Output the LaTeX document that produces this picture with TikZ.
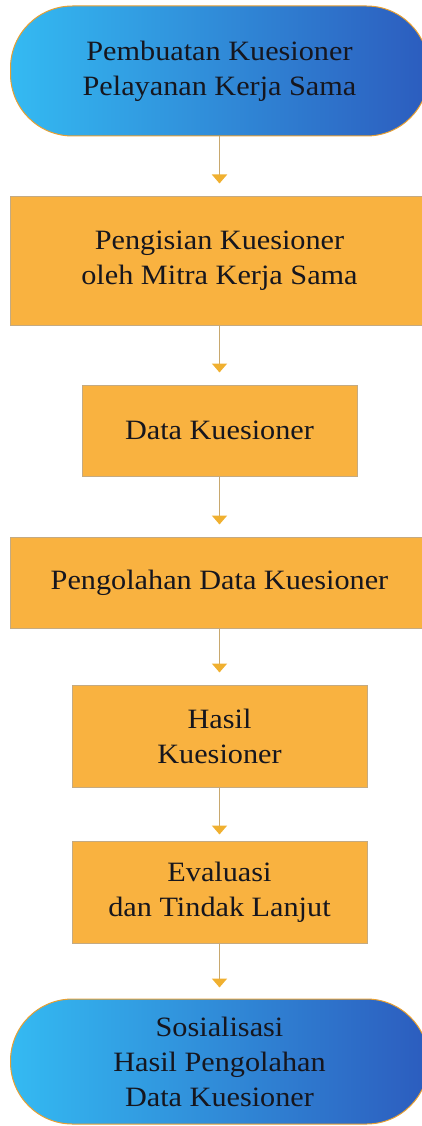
\documentclass[tikz,border=0pt]{standalone}
\usepackage{fontspec}
\setmainfont{Liberation Serif}[FakeStretch=1.08]
\usetikzlibrary{arrows.meta}
\definecolor{boxfill}{RGB}{249,178,64}
\definecolor{boxline}{RGB}{196,170,130}
\definecolor{termleft}{RGB}{52,186,242}
\definecolor{termright}{RGB}{44,92,190}
\definecolor{termline}{RGB}{232,160,50}
\definecolor{arrline}{RGB}{200,168,110}
\definecolor{arrhead}{RGB}{240,176,48}
\definecolor{txt}{RGB}{22,22,30}
\tikzset{
  x=1pt, y=1pt,
  base/.style={align=center, text=txt, font=\fontsize{28}{35}\selectfont, inner sep=0pt},
  procbox/.style={base, rectangle, draw=boxline, line width=1pt, fill=boxfill},
  termbox/.style={base, rectangle, rounded corners=62pt, draw=termline, line width=1pt,
     left color=termleft, right color=termright, shading angle=90},
  flow/.style={draw=arrline, line width=1.8pt,
     -{Triangle[width=15pt,length=9pt,color=arrhead]}, shorten >=12pt}
}
\begin{document}
\begin{tikzpicture}
\useasboundingbox (0,0) rectangle (421,-1126);
\node[termbox, minimum width=418pt, minimum height=130pt] (t1) at (219.5,-71)
  {Pembuatan Kuesioner\\Pelayanan Kerja Sama};
\node[procbox, minimum width=418pt, minimum height=129pt] (b2) at (219.5,-260.5)
  {Pengisian Kuesioner\\oleh Mitra Kerja Sama};
\node[procbox, minimum width=275pt, minimum height=91pt] (b3) at (219.5,-430.5)
  {Data Kuesioner};
\node[procbox, minimum width=418pt, minimum height=91pt] (b4) at (219.5,-582.5)
  {Pengolahan Data Kuesioner};
\node[procbox, minimum width=295pt, minimum height=102pt] (b5) at (219.5,-736)
  {Hasil\\Kuesioner};
\node[procbox, minimum width=295pt, minimum height=102pt] (b6) at (219.5,-892)
  {Evaluasi\\dan Tindak Lanjut};
\node[termbox, minimum width=418pt, minimum height=125pt] (t7) at (219.5,-1061.5)
  {Sosialisasi\\Hasil Pengolahan\\Data Kuesioner};
\draw[flow] (t1.south) -- (b2.north);
\draw[flow] (b2.south) -- (b3.north);
\draw[flow] (b3.south) -- (b4.north);
\draw[flow] (b4.south) -- (b5.north);
\draw[flow, shorten >=6pt] (b5.south) -- (b6.north);
\draw[flow, shorten >=11pt] (b6.south) -- (t7.north);
\end{tikzpicture}
\end{document}
